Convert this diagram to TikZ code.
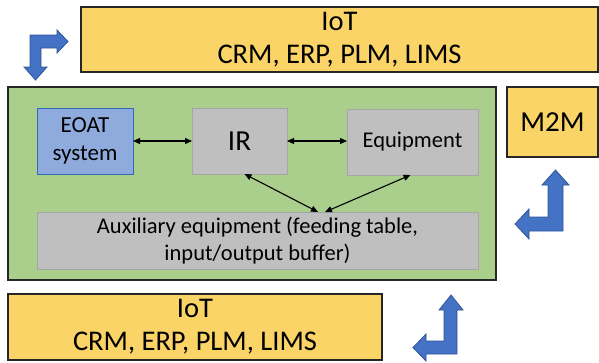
\documentclass[tikz,border=0pt]{standalone}
\usepackage{fontspec}
\setmainfont{Carlito}
\usepackage{tikz}
\usetikzlibrary{arrows.meta}
\definecolor{sari}{HTML}{FAD466}
\definecolor{yesilAcik}{HTML}{AACF8C}
\definecolor{gri}{HTML}{C0BFBF}
\definecolor{griKenar}{HTML}{A6A6A6}
\definecolor{mavi}{HTML}{8FAADC}
\definecolor{maviKenar}{HTML}{2E6DB5}
\definecolor{okMavi}{HTML}{4472C4}
\definecolor{okKenar}{HTML}{2F5597}
\definecolor{koyu}{HTML}{262626}

\begin{document}
\begin{tikzpicture}[x=1pt,y=-1pt,
  kutu/.style={anchor=north west,inner sep=0pt,outer sep=0pt,align=center},
  sariKutu/.style={kutu,fill=sari,draw=koyu,line width=1.2pt},
  griKutu/.style={kutu,fill=gri,draw=griKenar,line width=1pt},
  cift/.style={{Triangle[length=7pt,width=6pt]}-{Triangle[length=7pt,width=6pt]},line width=1.1pt},
  okSekli/.style={fill=okMavi,draw=okKenar,line width=0.8pt,line join=miter}]
\useasboundingbox (0,0) rectangle (599,362);
% ust katman
\node[sariKutu,minimum width=517pt,minimum height=65pt,font=\fontsize{28.5}{33}\selectfont] (iotUst) at (81,7) {IoT\\CRM, ERP, PLM, LIMS};
\node[sariKutu,minimum width=91pt,minimum height=70pt,font=\fontsize{29}{33}\selectfont] (m2m) at (507,87) {M2M};
% hucre
\node[kutu,fill=yesilAcik,draw=koyu,line width=1.2pt,minimum width=488pt,minimum height=193pt] (hucre) at (8,87) {};
\node[kutu,fill=mavi,draw=maviKenar,line width=1pt,minimum width=96pt,minimum height=66pt,font=\fontsize{23}{28}\selectfont] (eoat) at (37,108) {EOAT\\system};
\node[griKutu,minimum width=95pt,minimum height=66pt,font=\fontsize{29}{30}\selectfont] (ir) at (192,108) {IR};
\node[griKutu,minimum width=131pt,minimum height=66pt,font=\fontsize{22.5}{27}\selectfont] (ekipman) at (347,109) {Equipment};
\node[griKutu,minimum width=441pt,minimum height=57pt,font=\fontsize{22.5}{27}\selectfont] (yardimci) at (37,212) {Auxiliary equipment (feeding table,\\input/output buffer)};
\coordinate (yardimciSol) at (318,212);
\coordinate (yardimciSag) at (325,212);
\draw[cift] (eoat.east) -- (ir.west);
\draw[cift] (ir.east) -- (ir.east -| ekipman.west);
\draw[cift] ([xshift=5pt]ir.south) -- (yardimciSol);
\draw[cift] ([xshift=-2pt]ekipman.south) -- (yardimciSag);
% alt katman
\node[sariKutu,minimum width=374pt,minimum height=66pt,font=\fontsize{28.5}{33}\selectfont] (iotAlt) at (8,294) {IoT\\CRM, ERP, PLM, LIMS};
% bukulu oklar
\filldraw[okSekli] (30,35) -- (57,35) -- (57,30) -- (68,41.5) -- (57,53) -- (57,48) -- (41,48) -- (41,67) -- (47,67) -- (35.5,80) -- (24,67) -- (30,67) -- cycle;
\filldraw[okSekli] (555.5,170) -- (569,185) -- (563,185) -- (563,231) -- (529,231) -- (529,239) -- (515,224) -- (529,209) -- (529,217) -- (548,217) -- (548,185) -- (542,185) -- cycle;
\filldraw[okSekli] (451,295) -- (463,310) -- (457,310) -- (457,354) -- (426,354) -- (426,361) -- (413,347.5) -- (426,334) -- (426,341) -- (444,341) -- (444,310) -- (439,310) -- cycle;
\end{tikzpicture}
\end{document}
